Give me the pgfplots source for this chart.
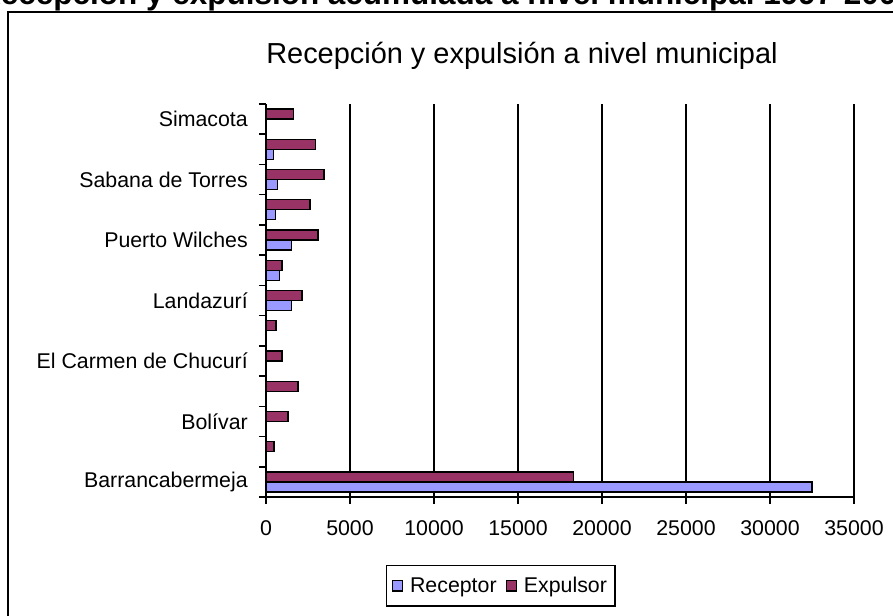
\documentclass[border=0pt]{standalone}
\usepackage{fontspec}
\setmainfont{Liberation Sans}
\usepackage{pgfplots}
\pgfplotsset{compat=1.18}
\definecolor{recep}{HTML}{9999FF}
\definecolor{expul}{HTML}{993366}
\begin{document}
\begin{tikzpicture}
\useasboundingbox (0,0) rectangle (669.75pt,461.25pt);
% chart frame
\draw[line width=1.5pt] (6pt,-20pt) rectangle (690pt,452.6pt);
% outer (clipped) title
\node[anchor=base west, inner sep=0pt, font=\fontsize{23.6}{28}\selectfont\bfseries] at (-16.5pt,457.8pt) {Recepción y expulsión acumulada a nivel municipal 1997-2006};
% chart title
\node[anchor=base, inner sep=0pt, font=\fontsize{21.7}{26}\selectfont] at (391.5pt,413.5pt) {Recepción y expulsión a nivel municipal};
\begin{axis}[
  at={(199.5pt,88.5pt)}, anchor=south west,
  scale only axis, width=441pt, height=294.75pt,
  xbar, bar width=7.5pt,
  xmin=0, xmax=35000, ymin=-0.5, ymax=12.5,
  axis x line=bottom, axis y line=left,
  axis line style={-, line width=1.3pt, black},
  xmajorgrids, grid style={black, line width=1.2pt},
  xtick={0,5000,...,35000},
  scaled x ticks=false,
  xticklabel={\pgfmathprintnumber[fixed,precision=0,1000 sep={}]{\tick}},
  /pgf/number format/assume math mode=true,
  tick align=outside, major tick length=5.25pt,
  tick style={black, line width=1.1pt},
  ytick={-0.5,0.5,...,12.5}, yticklabels={},
  extra y ticks={0,2,4,6,8,10,12},
  extra y tick labels={Barrancabermeja,Bolívar,El Carmen de Chucurí,Landazurí,Puerto Wilches,Sabana de Torres,Simacota},
  extra y tick style={major tick length=0pt, grid=none},
  tick label style={font=\fontsize{16}{19}\selectfont},
  yticklabel style={anchor=east, inner sep=0pt, xshift=-13.5pt},
  xticklabel style={anchor=north, inner sep=0pt, yshift=-12pt},
  legend style={at={(axis description cs:0.2041,-0.173)}, anchor=north west, draw=black, line width=1.1pt,
    font=\fontsize{16}{19}\selectfont, legend columns=2,
    inner xsep=4pt, inner ysep=6.5pt,
    /tikz/every even column/.append style={column sep=5pt}},
  legend image code/.code={\draw[#1, line width=1pt] (0.5pt,-3.8pt) rectangle (8pt,3.8pt); \path (11pt,0);},
]
\addplot[fill=recep, draw=black, line width=1pt, bar shift=-3.75pt] coordinates {
(32500,0) (1520,6) (810,7) (1520,8) (570,9) (690,10) (450,11)};
\addlegendentry{Receptor}
\addplot[fill=expul, draw=black, line width=1pt, bar shift=3.75pt] coordinates {
(18300,0) (470,1) (1300,2) (1900,3) (950,4) (590,5) (2140,6) (950,7) (3090,8) (2620,9) (3450,10) (2950,11) (1640,12)};
\addlegendentry{Expulsor}
\end{axis}
\end{tikzpicture}
\end{document}
